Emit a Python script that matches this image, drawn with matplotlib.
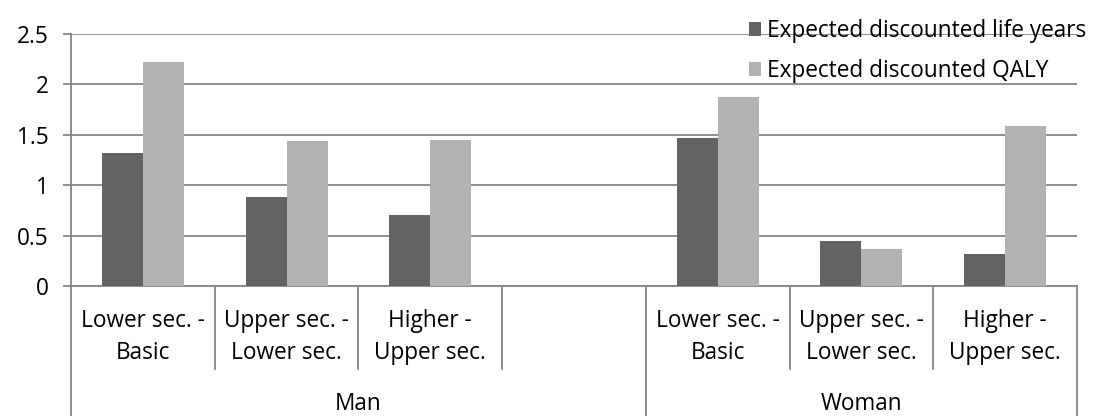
import numpy as np
import matplotlib.pyplot as plt
import matplotlib.transforms as mtransforms

plt.rcParams['font.family'] = ['Open Sans', 'DejaVu Sans']

# education transitions, with an empty slot between the two sexes
categories = ['Lower sec. -\nBasic', 'Upper sec. -\nLower sec.', 'Higher -\nUpper sec.', '',
              'Lower sec. -\nBasic', 'Upper sec. -\nLower sec.', 'Higher -\nUpper sec.']
groups = ['Man', 'Woman']
group_slots = [(0, 4), (4, 7)]   # first slot, slot after last
life_years = [1.32, 0.88, 0.70, np.nan, 1.465, 0.45, 0.315]
qaly = [2.225, 1.435, 1.45, np.nan, 1.875, 0.365, 1.585]
yticks = [0, 0.5, 1, 1.5, 2, 2.5]

dark = '#636363'
light = '#b2b2b2'
line_col = '#868686'
fs = 16.3

fig = plt.figure(figsize=(10.97, 4.16), dpi=100)
ax = fig.add_axes([71 / 1097, 1 - 286 / 416, (1077 - 71) / 1097, (286 - 34) / 416])

x = np.arange(len(categories))
w = 0.285
ax.bar(x - w / 2, life_years, w, color=dark, label='Expected discounted life years', zorder=3)
ax.bar(x + w / 2, qaly, w, color=light, label='Expected discounted QALY', zorder=3)

ax.set_xlim(-0.5, len(categories) - 0.5)
ax.set_ylim(0, 2.5)
ax.set_yticks(yticks)
ax.set_yticklabels([f'{t:g}' for t in yticks])
ax.yaxis.grid(True, color=line_col, linewidth=1.3, zorder=0)
ax.tick_params(axis='y', length=6, width=1.3, color=line_col, pad=10, labelsize=fs)
ax.set_xticks([])

for s in ['top', 'right']:
    ax.spines[s].set_visible(False)
for s in ['left', 'bottom']:
    ax.spines[s].set_color(line_col)
    ax.spines[s].set_linewidth(1.3)

# two-level category axis drawn below the plot
trans = mtransforms.blended_transform_factory(ax.transData, ax.transAxes)
h_px = ax.get_position().height * fig.get_figheight() * fig.dpi
inner_bottom = -(369 - 286) / h_px
outer_bottom = -(416 - 286) / h_px - 0.05
for i in range(len(categories) + 1):
    edge = i - 0.5
    outer = any(i == a for a, b in group_slots) or i == len(categories)
    y1 = outer_bottom if outer else inner_bottom
    ax.plot([edge, edge], [0, y1], color=line_col, linewidth=1.3,
            transform=trans, clip_on=False)
for xi, lab in zip(x, categories):
    ax.text(xi, -(337 - 286) / h_px, lab, transform=trans, ha='center', va='center',
            fontsize=fs, linespacing=1.4)
for g, (a, b) in zip(groups, group_slots):
    ax.text((a + b - 1) / 2, -(404 - 286) / h_px, g, transform=trans,
            ha='center', va='center', fontsize=fs)

ax.legend(loc='upper left', bbox_to_anchor=(733 / 1097, 1 - 3 / 416), bbox_transform=fig.transFigure,
          frameon=False, fontsize=fs, handlelength=0.55, handleheight=0.55,
          handletextpad=0.25, labelspacing=0.72, borderaxespad=0.3)

fig.savefig('out.png', dpi=100)
